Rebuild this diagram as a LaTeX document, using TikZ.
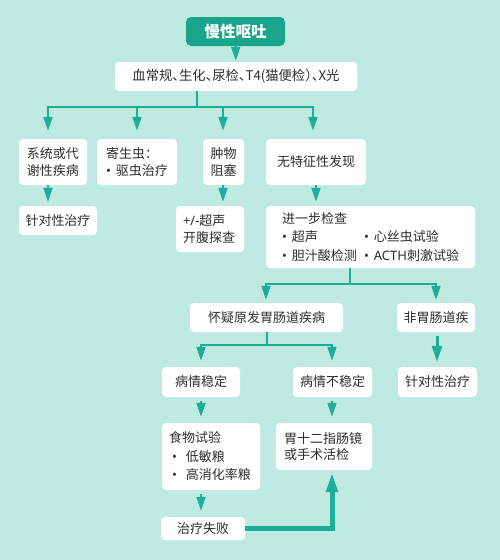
\documentclass[tikz,border=0pt]{standalone}
\usepackage{fontspec}
\setmainfont{Noto Sans CJK SC}
\newfontfamily\lat{Noto Sans}
\usetikzlibrary{arrows.meta}
\definecolor{bgc}{HTML}{BFEAE2}
\definecolor{teal1}{HTML}{1DAE97}
\definecolor{titlec}{HTML}{19A58C}
\definecolor{txt}{HTML}{2E2E2E}
\tikzset{
  box/.style={fill=white, rounded corners=4pt, inner sep=0pt, text=txt,
    font=\fontsize{13}{16.5}\selectfont, align=center},
  lbox/.style={box, align=left},
  conn/.style={draw=teal1, line width=2pt},
  arr/.style={conn, -{Triangle[width=9pt,length=14pt]}},
  bigarr/.style={draw=teal1, line width=3pt, -{Triangle[width=10pt,length=16pt]}},
  fatarr/.style={draw=teal1, line width=5pt, -{Triangle[width=11pt,length=20pt]}},
}
\newcommand{\bul}{{\lat •}\hspace{5pt}}
\begin{document}
\begin{tikzpicture}[x=1pt,y=-1pt]
\fill[bgc] (0,0) rectangle (500,560);
\useasboundingbox (0,0) rectangle (500,560);
% title
\node[fill=titlec, rounded corners=5pt, minimum width=99pt, minimum height=29pt, inner sep=0pt,
  text=white, font=\fontsize{15.5}{18}\selectfont\bfseries] (t) at (235.5,31.5) {慢性呕吐};
\node[box, minimum width=242pt, minimum height=29pt,
  font=\fontsize{13.3}{15}\selectfont\addfontfeature{RawFeature=+halt}] (b2) at (236,76.5)
  {血常规、生化、尿检、T4(猫便检）、X光};
% row 1
\node[box, minimum width=68pt, minimum height=46pt] (r1a) at (53,162) {系统或代\\谢性疾病};
\node[lbox, text width=62pt, inner xsep=9pt, minimum height=46pt] (r1b) at (137,162) {\mbox{寄生虫：}\\\mbox{\bul 驱虫治疗}};
\node[box, minimum width=41pt, minimum height=46pt] (r1c) at (223.5,162) {肿物\\阻塞};
\node[box, minimum width=100pt, minimum height=46pt] (r1d) at (316,162) {无特征性发现};
% row 2
\node[box, minimum width=78pt, minimum height=29pt] (r2a) at (58,220.5) {针对性治疗};
\node[lbox, text width=54pt, inner xsep=7pt, minimum height=46pt] (r2c) at (210,229) {\mbox{\lat +/-}超声\\开腹探查};
\node[lbox, text width=181pt, inner xsep=14pt, minimum height=62pt,
  font=\fontsize{13}{18.5}\selectfont] (r2d) at (370.5,237)
  {\mbox{\hspace{2pt}进一步检查}\\\mbox{\makebox[84pt][l]{\hspace{2pt}\bul 超声}\bul 心丝虫试验}\\\mbox{\makebox[84pt][l]{\hspace{2pt}\bul 胆汁酸检测}\bul {\lat ACTH}刺激试验}};
% row 3
\node[box, minimum width=153pt, minimum height=29pt] (r3a) at (266.5,317.5) {怀疑原发胃肠道疾病};
\node[box, minimum width=78pt, minimum height=29pt] (r3b) at (436,317.5) {非胃肠道疾};
% row 4
\node[box, minimum width=78pt, minimum height=30pt] (r4a) at (201,382) {病情稳定};
\node[box, minimum width=79pt, minimum height=30pt] (r4b) at (332.5,382) {病情不稳定};
\node[box, minimum width=79pt, minimum height=30pt] (r4c) at (437.5,382) {针对性治疗};
% row 5
\node[lbox, text width=84pt, inner xsep=7pt, minimum height=67pt,
  font=\fontsize{13}{18.5}\selectfont] (r5a) at (211,456.5)
  {食物试验\\\mbox{\hspace{3pt}{\lat •}\hspace{9pt}低敏粮}\\\mbox{\hspace{3pt}{\lat •}\hspace{9pt}高消化率粮}};
\node[lbox, text width=80pt, inner xsep=8pt, minimum height=47pt] (r5b) at (324,446.5) {胃十二指肠镜\\或手术活检};
\node[box, minimum width=84pt, minimum height=23pt] (r6a) at (203,528.5) {治疗失败};
% connectors
\draw[arr, shorten >=1pt] (t) -- (b2);
\coordinate (s1) at (197,107);
\draw[conn] (s1 |- b2.south) -- (s1);
\coordinate (ba) at (48,107);
\coordinate (bb) at (137,107);
\coordinate (bc) at (223,107);
\coordinate (bd) at (313,107);
\draw[conn] ([xshift=-1pt]ba) -- ([xshift=1pt]bd);
\draw[arr, shorten >=8pt] (ba) -- (ba |- r1a.north);
\draw[arr, shorten >=8pt] (bb) -- (bb |- r1b.north);
\draw[arr, shorten >=8pt] (bc) -- (bc |- r1c.north);
\draw[arr, shorten >=8pt] (bd) -- (bd |- r1d.north);
\draw[arr, shorten >=4pt] (r1a.south -| ba) -- (ba |- r2a.north);
\draw[arr, shorten >=4pt] (r1c.south -| bc) -- (bc |- r2c.north);
\coordinate (dd) at (316,0);
\draw[arr, shorten >=4pt] (r1d.south -| dd) -- (dd |- r2d.north);
% further checks split
\coordinate (s2) at (350,284);
\coordinate (ca) at (266,284);
\coordinate (cb) at (436,284);
\draw[conn] (s2 |- r2d.south) -- (s2);
\draw[conn] ([xshift=-1pt]ca) -- ([xshift=1pt]cb);
\draw[arr, shorten >=3pt] (ca) -- (ca |- r3a.north);
\draw[arr, shorten >=3pt] (cb) -- (cb |- r3b.north);
% GI split
\coordinate (s3) at (267,345);
\coordinate (ea) at (201,345);
\coordinate (eb) at (332,345);
\draw[conn] (s3 |- r3a.south) -- (s3);
\draw[conn] ([xshift=-1pt]ea) -- ([xshift=1pt]eb);
\draw[arr, shorten >=6pt] (ea) -- (ea |- r4a.north);
\draw[arr, shorten >=6pt] (eb) -- (eb |- r4b.north);
\coordinate (nb) at (437,0);
\draw[bigarr, shorten <=4pt, shorten >=5pt] (r3b.south -| nb) -- (nb |- r4c.north);
% lower
\draw[arr, shorten <=4pt, shorten >=6pt] (r4a.south -| ea) -- (ea |- r5a.north);
\draw[arr, shorten <=4pt, shorten >=6pt] (r4b.south -| eb) -- (eb |- r5b.north);
\draw[arr, shorten <=4pt, shorten >=6pt] (r5a.south -| ea) -- (ea |- r6a.north);
\draw[fatarr, shorten >=2pt] (r6a.east) -| (eb |- r5b.south);
\end{tikzpicture}
\end{document}
